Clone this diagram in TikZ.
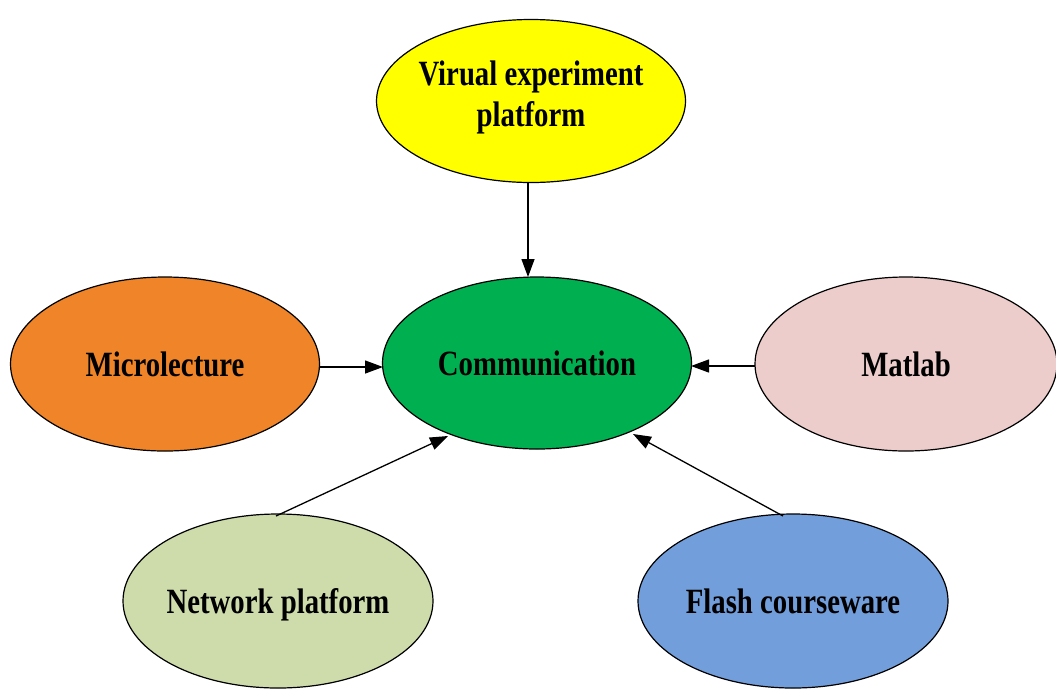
\documentclass[tikz,border=0pt]{standalone}
\usepackage{fontspec}
\newfontfamily\labfont{Liberation Serif Bold}[FakeStretch=0.81]
\usetikzlibrary{shapes.geometric,arrows.meta}
\definecolor{cyel}{RGB}{255,255,0}
\definecolor{cgreen}{RGB}{0,176,80}
\definecolor{corange}{RGB}{240,132,40}
\definecolor{cpink}{RGB}{237,205,204}
\definecolor{clgreen}{RGB}{205,220,170}
\definecolor{cblue}{RGB}{114,159,220}
\tikzset{
  bubble/.style={ellipse, draw=black, line width=1.2pt, inner ysep=0pt, inner xsep=-30pt,
    minimum width=309pt, minimum height=172pt,
    font=\labfont\fontsize{35.5}{42}\selectfont, align=center, text=black},
  oneline/.style={text height=24pt, text depth=0pt},
  link/.style={line width=1.3pt, -{Triangle[length=18pt,width=13pt]}}
}
\begin{document}
\begin{tikzpicture}[x=1pt,y=-1pt]
\useasboundingbox (0,0) rectangle (1056,689);
\clip (0,0) rectangle (1056,689);
\node[bubble, fill=cyel, minimum width=309pt, minimum height=163pt] (vir) at (531,101) {Virual experiment\\[-1pt]platform\rule[-14pt]{0pt}{14pt}};
\node[bubble, oneline, fill=cgreen] (com) at (537,363) {Communication};
\node[bubble, oneline, fill=corange, minimum height=174pt] (mic) at (165,364) {Microlecture};
\node[bubble, oneline, fill=cpink, minimum width=302pt, minimum height=174pt] (mat) at (906,364) {Matlab};
\node[bubble, oneline, fill=clgreen, minimum width=310pt, minimum height=174pt] (net) at (278,601) {Network platform};
\node[bubble, oneline, fill=cblue, minimum width=310pt, minimum height=174pt] (fla) at (793,601) {Flash courseware};
\coordinate (vb) at (528,183);
\coordinate (ct) at (528,277);
\draw[link] (vb) -- (ct);
\coordinate (mr) at (319,367);
\coordinate (cl) at (383,367);
\draw[link] (mr) -- (cl);
\coordinate (ml) at (755,366);
\coordinate (cr) at (691,366);
\draw[link] (ml) -- (cr);
\coordinate (nt) at (276,516);
\coordinate (cbl) at (448,436);
\draw[link] (nt) -- (cbl);
\coordinate (ft) at (783,516);
\coordinate (cbr) at (633,434);
\draw[link] (ft) -- (cbr);
\end{tikzpicture}
\end{document}
